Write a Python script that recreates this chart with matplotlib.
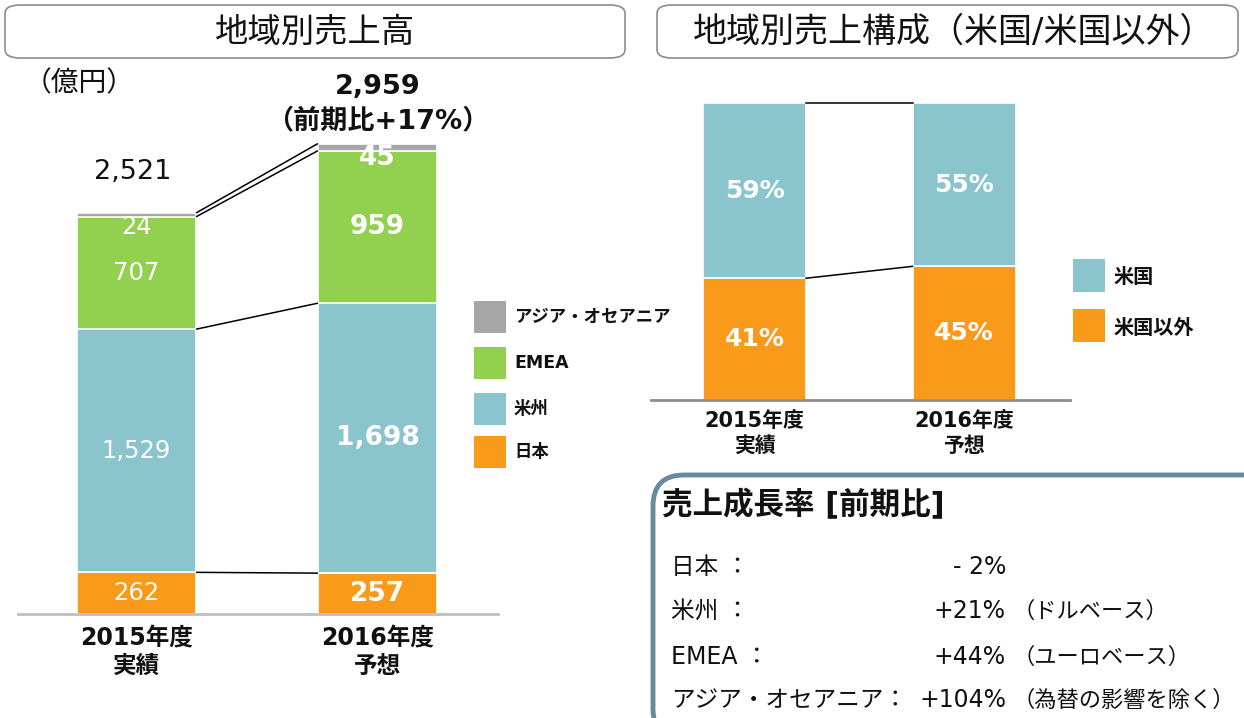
import matplotlib
matplotlib.use("Agg")
import matplotlib.pyplot as plt
from matplotlib.patches import FancyBboxPatch, Rectangle
import numpy as np

plt.rcParams['font.family'] = ['DejaVu Sans', 'Noto Sans CJK JP']

# ---------------- data ----------------
years = ['2015年度\n実績', '2016年度\n予想']
japan = [262, 257]
americas = [1529, 1698]
emea = [707, 959]
asia = [24, 45]
total_labels = ['2,521', '2,959']
growth_note = '（前期比+17%）'
region_names = ['アジア・オセアニア', 'EMEA', '米州', '日本']

us_share = [59, 55]
non_us_share = [41, 45]
share_names = ['米国', '米国以外']

growth_rows = ['日本 ：', '米州 ：', 'EMEA ：', 'アジア・オセアニア：']
growth_vals = ['- 2%', '+21%', '+44%', '+104%']
growth_notes = ['', '（ドルベース）', '（ユーロベース）', '（為替の影響を除く）']

# ---------------- colors ----------------
C_JP = '#FA9A1A'
C_AM = '#8AC5CD'
C_EM = '#92D14F'
C_AS = '#A6A6A6'
C_AX = '#BFBFBF'
TXT = '#111111'

W, H = 1244, 718
fig = plt.figure(figsize=(W / 100, H / 100), dpi=100)

def fx(x):
    return x / W

def fy(y):
    return 1 - y / H

def rect_axes(x0, y_top, x1, y_bot):
    return fig.add_axes([fx(x0), fy(y_bot), fx(x1) - fx(x0), fy(y_top) - fy(y_bot)])

# title boxes
for (x0, x1, tcx, txt, fs) in [(5, 625, 315, '地域別売上高', 24),
                               (657, 1238, 954, '地域別売上構成（米国/米国以外）', 24.5)]:
    box = FancyBboxPatch((fx(x0), fy(58)), fx(x1) - fx(x0), fy(5) - fy(58),
                         boxstyle='round,pad=0,rounding_size=0.012',
                         transform=fig.transFigure, facecolor='white',
                         edgecolor='#8C8C8C', linewidth=1.2)
    fig.patches.append(box)
    fig.text(fx(tcx), fy(32), txt, ha='center', va='center',
             fontsize=fs, color=TXT)

# ---------------- left chart ----------------
px_per_unit = 401 / 2522.0
base_y = 614
ax = rect_axes(18, base_y - 3000 * px_per_unit, 498, base_y)
ax.set_ylim(0, 3000)
cx0, cx1 = 136.5, 377.5
upx = cx1 - cx0
bw = 119 / upx
ax.set_xlim((18 - cx0) / upx, (498 - cx0) / upx)
x = np.arange(len(years))

b1 = np.array(japan)
b2 = b1 + np.array(americas)
b3 = b2 + np.array(emea)
b4 = b3 + np.array(asia)

for bottom, vals, col in [(0, japan, C_JP), (b1, americas, C_AM), (b2, emea, C_EM), (b3, asia, C_AS)]:
    ax.bar(x, vals, bottom=bottom, width=bw, color=col, edgecolor='white', linewidth=1.2)

for s in ['top', 'right', 'left']:
    ax.spines[s].set_visible(False)
ax.spines['bottom'].set_color(C_AX)
ax.spines['bottom'].set_linewidth(2)
ax.set_yticks([])
ax.set_xticks(x)
ax.set_xticklabels(years, fontsize=17, fontweight='bold', linespacing=1.2, color=TXT)
ax.tick_params(axis='x', length=0, pad=9)

# connector lines
xl, xr = x[0] + bw / 2, x[1] - bw / 2
for lv in [b4, b3, b2, b1]:
    ax.plot([xl, xr], [lv[0], lv[1]], color='black', lw=1.1, solid_capstyle='butt')

# segment labels
for i in range(2):
    wt = 'normal' if i == 0 else 'bold'
    fs = 17.5 if i == 0 else 19
    ax.text(x[i], japan[i] / 2, f'{japan[i]:,}', ha='center', va='center', color='white', fontsize=fs, fontweight=wt)
    ax.text(x[i], b1[i] + americas[i] / 2, f'{americas[i]:,}', ha='center', va='center', color='white', fontsize=fs, fontweight=wt)
    ax.text(x[i], b2[i] + emea[i] / 2, f'{emea[i]:,}', ha='center', va='center', color='white', fontsize=fs, fontweight=wt)
    ax.annotate(f'{asia[i]:,}', (x[i], b3[i]), xytext=(0, -10 if i == 0 else -7), textcoords='offset pixels',
                ha='center', va='center', color='white', fontsize=fs, fontweight=wt)

ax.annotate(total_labels[0], (x[0], b4[0]), xytext=(-4, 41), textcoords='offset pixels',
            ha='center', va='center', fontsize=19.5, color=TXT, annotation_clip=False)
ax.annotate(total_labels[1], (x[1], b4[1]), xytext=(0, 57), textcoords='offset pixels',
            ha='center', va='center', fontsize=19.5, fontweight='bold', color=TXT, annotation_clip=False)
ax.annotate(growth_note, (x[1], b4[1]), xytext=(0, 22), textcoords='offset pixels',
            ha='center', va='center', fontsize=19.5, fontweight='bold', color=TXT, annotation_clip=False)

fig.text(fx(24), fy(83), '（億円）', ha='left', va='center', fontsize=20, color=TXT)

# left legend
leg_cols = [C_AS, C_EM, C_AM, C_JP]
leg_y = [317, 363, 409, 452]
for name, col, yy in zip(region_names, leg_cols, leg_y):
    fig.patches.append(Rectangle((fx(474), fy(yy + 16)), fx(32), fy(0) - fy(32),
                                 transform=fig.transFigure, facecolor=col, edgecolor='none'))
    fig.text(fx(514), fy(yy), name, ha='left', va='center', fontsize=12.5, fontweight='bold', color=TXT)

# ---------------- right chart ----------------
ax2 = rect_axes(651, 103, 1070, 400)
ax2.set_ylim(0, 100)
rc0, rc1 = 754.5, 964.0
ru = rc1 - rc0
rbw = 103 / ru
ax2.set_xlim((651 - rc0) / ru, (1070 - rc0) / ru)
ax2.bar(x, non_us_share, width=rbw, color=C_JP, edgecolor='white', linewidth=1.2)
ax2.bar(x, us_share, bottom=non_us_share, width=rbw, color=C_AM, edgecolor='white', linewidth=1.2)
for s in ['top', 'right', 'left']:
    ax2.spines[s].set_visible(False)
ax2.spines['bottom'].set_color('#8C8C8C')
ax2.spines['bottom'].set_linewidth(2)
ax2.set_yticks([])
ax2.set_xticks(x)
ax2.set_xticklabels(years, fontsize=15, fontweight='bold', linespacing=1.3, color=TXT)
ax2.tick_params(axis='x', length=0, pad=8)

rxl, rxr = x[0] + rbw / 2, x[1] - rbw / 2
tot = np.array(non_us_share) + np.array(us_share)
ax2.plot([rxl, rxr], [tot[0], tot[1]], color='black', lw=1.1, clip_on=False)
ax2.plot([rxl, rxr], [non_us_share[0], non_us_share[1]], color='black', lw=1.1, clip_on=False)
for i in range(2):
    ax2.text(x[i], non_us_share[i] / 2, f'{non_us_share[i]}%', ha='center', va='center',
             color='white', fontsize=18, fontweight='bold')
    ax2.text(x[i], non_us_share[i] + us_share[i] / 2, f'{us_share[i]}%', ha='center', va='center',
             color='white', fontsize=18, fontweight='bold')

for name, col, yy in zip(share_names, [C_AM, C_JP], [276, 326]):
    fig.patches.append(Rectangle((fx(1073), fy(yy + 16)), fx(32), fy(0) - fy(33),
                                 transform=fig.transFigure, facecolor=col, edgecolor='none'))
    fig.text(fx(1114), fy(yy + 2), name, ha='left', va='center', fontsize=14.5, fontweight='bold', color=TXT)

# ---------------- growth box ----------------
gbox = FancyBboxPatch((fx(653), fy(740)), fx(640), fy(0) - fy(265),
                      boxstyle='round,pad=0,rounding_size=0.025',
                      transform=fig.transFigure, facecolor='white',
                      edgecolor='#6A8A9E', linewidth=3.5, mutation_aspect=W / H)
fig.patches.append(gbox)
fig.text(fx(662), fy(505), '売上成長率 [前期比]', ha='left', va='center',
         fontsize=22, fontweight='bold', color=TXT)
row_y = [567, 611, 657, 700]
for lab, val, note, yy in zip(growth_rows, growth_vals, growth_notes, row_y):
    fig.text(fx(671), fy(yy), lab, ha='left', va='center', fontsize=17, color=TXT)
    fig.text(fx(1006), fy(yy), val, ha='right', va='center', fontsize=17, color=TXT)
    if note:
        fig.text(fx(1012), fy(yy), note, ha='left', va='center', fontsize=16, color=TXT)

fig.savefig('out.png', dpi=100)
